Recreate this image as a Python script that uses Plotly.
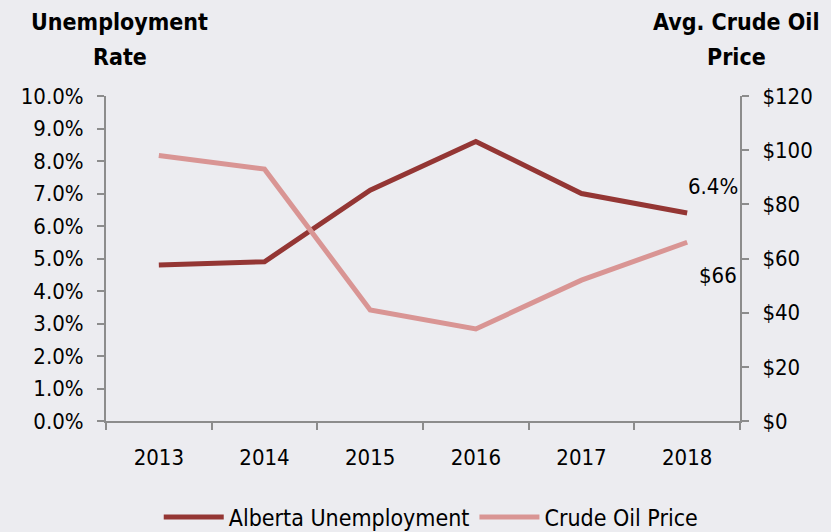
import plotly.graph_objects as go

years = ['2013', '2014', '2015', '2016', '2017', '2018']
unemployment = [4.8, 4.9, 7.1, 8.6, 7.0, 6.4]
oil_price = [98, 93, 41, 34, 52, 66]

pct_ticks = [i for i in range(0, 11)]
pct_labels = ['%.1f%%' % v for v in pct_ticks]
usd_ticks = [0, 20, 40, 60, 80, 100, 120]
usd_labels = ['$%d' % v for v in usd_ticks]

FONT = 'DejaVu Sans Condensed, Liberation Sans, Arial, sans-serif'
AXIS_COLOR = '#8c8c8c'
FS = 22

fig = go.Figure()
fig.add_trace(go.Scatter(x=years, y=unemployment, name='Alberta Unemployment',
                         mode='lines', line=dict(color='#943634', width=5)))
fig.add_trace(go.Scatter(x=years, y=oil_price, name='Crude Oil Price', yaxis='y2',
                         mode='lines', line=dict(color='#d99594', width=5)))

fig.update_layout(
    width=831, height=532,
    margin=dict(l=106, r=91, t=96, b=111),
    paper_bgcolor='#ececf0',
    plot_bgcolor='rgba(0,0,0,0)',
    font=dict(family=FONT, size=FS, color='#000000'),
    showlegend=True,
    legend=dict(orientation='h', x=0.513, xanchor='center', yref='container',
                y=0.028, yanchor='middle', font=dict(size=23), itemwidth=60,
                bgcolor='rgba(0,0,0,0)'),
    xaxis=dict(type='category', range=[-0.5, 5.5], showgrid=False, automargin=False,
               showline=True, linecolor=AXIS_COLOR, linewidth=2,
               ticks='outside', tickson='boundaries', ticklen=7, tickcolor=AXIS_COLOR,
               tickwidth=2, ticklabelstandoff=16),
    yaxis=dict(range=[0, 10], tickvals=pct_ticks, ticktext=pct_labels, showgrid=False,
               zeroline=False, showline=True, linecolor=AXIS_COLOR, linewidth=2,
               automargin=False, ticks='outside', ticklen=7, tickcolor=AXIS_COLOR,
               tickwidth=2, ticklabelstandoff=9),
    yaxis2=dict(range=[0, 120], tickvals=usd_ticks, ticktext=usd_labels, overlaying='y',
                side='right', showgrid=False, zeroline=False, showline=True,
                automargin=False, linecolor=AXIS_COLOR, linewidth=2, ticks='outside',
                ticklen=7, tickcolor=AXIS_COLOR, tickwidth=2, ticklabelstandoff=9),
)

# axis titles, one annotation per line
for txt, x, y in [('Unemployment', 0.022, 1.228), ('Rate', 0.022, 1.12),
                  ('Avg. Crude Oil', 0.994, 1.228), ('Price', 0.994, 1.12)]:
    fig.add_annotation(text='<b>%s</b>' % txt, xref='paper', yref='paper', x=x, y=y,
                       xanchor='center', yanchor='middle', showarrow=False,
                       font=dict(size=23))

last = len(years) - 1
fig.add_annotation(text='%.1f%%' % unemployment[last], x=last, y=unemployment[last],
                   xref='x', yref='y', xshift=26, yshift=27, showarrow=False,
                   font=dict(size=FS))
fig.add_annotation(text='$%d' % oil_price[last], x=last, y=oil_price[last],
                   xref='x', yref='y2', xshift=31, yshift=-33, showarrow=False,
                   font=dict(size=FS))

fig.write_html('out.html', config={'displayModeBar': False},
               post_script="document.body.style.margin='0';")
